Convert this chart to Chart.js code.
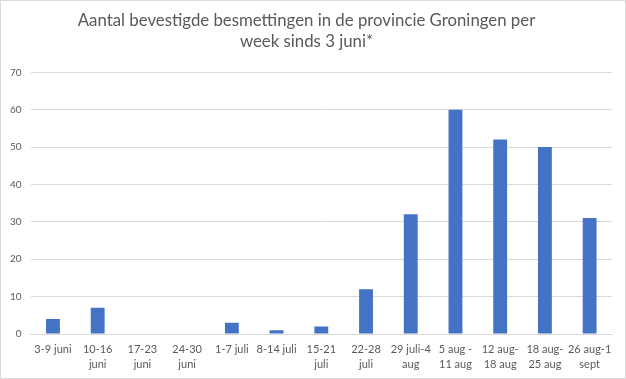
<!DOCTYPE html>
<html>
<head>
<meta charset="utf-8">
<script src="https://cdn.jsdelivr.net/npm/chart.js@4/dist/chart.umd.min.js"></script>
<style>
  html, body { margin: 0; padding: 0; background: #fff; }
  #wrap { width: 626px; height: 379px; box-sizing: border-box; border: 1px solid #d9d9d9; }
  canvas { display: block; }
</style>
</head>
<body>
<div id="wrap"><canvas id="chartCanvas" width="624" height="377"></canvas></div>
<script>
const weeks = [
    ['3-9 juni'], ['10-16', 'juni'], ['17-23', 'juni'], ['24-30', 'juni'],
    ['1-7 juli'], ['8-14 juli'], ['15-21', 'juli'], ['22-28', 'juli'],
    ['29 juli-4', 'aug'], ['5 aug -', '11 aug'], ['12 aug-', '18 aug'],
    ['18 aug-', '25 aug'], ['26 aug-1', 'sept']
];
const infections = [4, 7, 0, 0, 3, 1, 2, 12, 32, 60, 52, 50, 31];
const titleLines = ['Aantal bevestigde besmettingen in de provincie Groningen per', 'week sinds 3 juni*'];

const textColor = '#595959';
const fontFamily = 'Lato, "Open Sans", sans-serif';

const data = {
    labels: weeks,
    datasets: [
        {
            label: 'Besmettingen',
            backgroundColor: '#4472C4',
            data: infections,
            categoryPercentage: 1,
            barPercentage: 0.31
        }
    ]
};

const config = {
    type: 'bar',
    data: data,
    options: {
        responsive: false,
        animation: false,
        layout: { padding: { left: 0, right: 13, top: 10, bottom: 0 } },
        plugins: {
            legend: { display: false },
            tooltip: { enabled: false },
            title: {
                display: true,
                text: titleLines,
                color: textColor,
                font: { family: fontFamily, size: 16.8, weight: 'normal' },
                lineHeight: 1.38,
                padding: { top: 0, bottom: 21 }
            }
        },
        scales: {
            x: {
                grid: { display: false, drawTicks: false },
                border: { color: '#d9d9d9' },
                afterFit: function(scale) { scale.height = 44; },
                ticks: {
                    color: textColor,
                    font: { family: fontFamily, size: 11, lineHeight: 1.38 },
                    maxRotation: 0,
                    autoSkip: false,
                    padding: 8
                }
            },
            y: {
                min: 0,
                max: 70,
                grid: { color: '#d9d9d9', drawTicks: false },
                border: { display: false },
                ticks: {
                    stepSize: 10,
                    color: textColor,
                    font: { family: fontFamily, size: 10 },
                    padding: 9
                }
            }
        }
    }
};

let myChart = new Chart(document.getElementById('chartCanvas'), config);
</script>
</body>
</html>
